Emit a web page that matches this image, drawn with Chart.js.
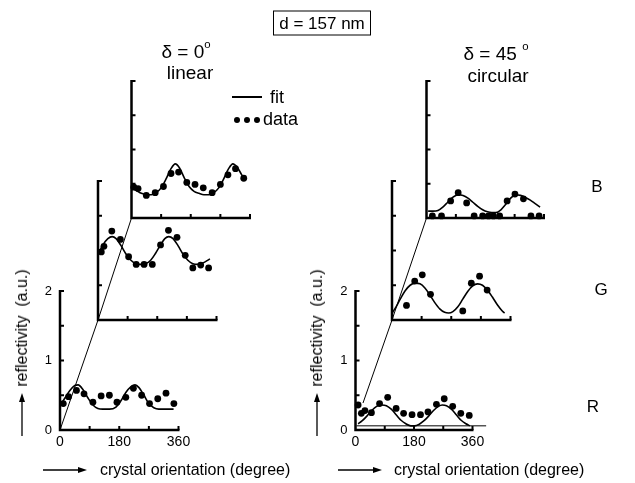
<!DOCTYPE html>
<html>
<head>
<meta charset="utf-8">
<script src="https://cdn.jsdelivr.net/npm/chart.js@4.4.1/dist/chart.umd.min.js"></script>
<style>
body { margin:0; background:#fff; }
#wrap { position:relative; width:635px; height:483px; overflow:hidden; font-family:'Liberation Sans', Arial, sans-serif; color:#000; }
#wrap canvas { position:absolute; left:0; top:0; }
.t { position:absolute; transform:translate(-50%,-50%); white-space:nowrap; line-height:1; }
.yt { position:absolute; transform:translate(-50%,-50%) rotate(-90deg); white-space:nowrap; font-size:16px; line-height:1; }
.l { position:absolute; white-space:nowrap; line-height:1; transform:translateY(-50%); }
sup { font-size:0.6em; position:relative; top:-0.2em; }
.dot { position:absolute; width:6px; height:6px; border-radius:50%; background:#000; }
</style>
</head>
<body>
<div id="wrap">
  <div class="t" style="left:322px; top:23px; width:96px; height:23px; border:1px solid #000; font-size:17px; display:flex; align-items:center; justify-content:center;">d = 157 nm</div>
  <div class="t" style="left:186px; top:51px; font-size:19px;">&delta; = 0<sup>o</sup></div>
  <div class="t" style="left:190px; top:72px; font-size:19px;">linear</div>
  <div class="t" style="left:496px; top:53px; font-size:19px;">&delta; = 45 <sup>o</sup></div>
  <div class="t" style="left:498px; top:75px; font-size:19px;">circular</div>
  <div style="position:absolute; left:232px; top:96px; width:30px; height:2px; background:#000;"></div>
  <div class="l" style="left:270px; top:97px; font-size:18px;">fit</div>
  <div class="dot" style="left:234px; top:117px;"></div>
  <div class="dot" style="left:244px; top:117px;"></div>
  <div class="dot" style="left:254px; top:117px;"></div>
  <div class="l" style="left:263px; top:119px; font-size:18px;">data</div>
  <div class="t" style="left:597px; top:186px; font-size:17px;">B</div>
  <div class="t" style="left:601px; top:289px; font-size:17px;">G</div>
  <div class="t" style="left:593px; top:406px; font-size:17px;">R</div>
  <div class="yt" style="left:22px; top:328px;">reflectivity&nbsp; (a.u.)</div>
  <div class="yt" style="left:317px; top:328px;">reflectivity&nbsp; (a.u.)</div>
  <div class="l" style="left:100px; top:470px; font-size:16px;">crystal orientation (degree)</div>
  <div class="l" style="left:394px; top:470px; font-size:16px;">crystal orientation (degree)</div>
  <svg width="635" height="483" style="position:absolute; left:0; top:0;">
    <g stroke="#000" stroke-width="1.3" fill="#000">
      <line x1="22" y1="436" x2="22" y2="400"/><polygon points="22,393 19,402 25,402" stroke="none"/>
      <line x1="317" y1="436" x2="317" y2="400"/><polygon points="317,393 314,402 320,402" stroke="none"/>
      <line x1="43" y1="470" x2="79" y2="470"/><polygon points="87,470 78,467 78,473" stroke="none"/>
      <line x1="338" y1="470" x2="374" y2="470"/><polygon points="382,470 373,467 373,473" stroke="none"/>
    </g>
  </svg>
</div>
<script>
// linear (delta = 0), R / G / B
var linRAngle = [10, 26, 50, 73, 100, 125, 150, 173, 200, 223, 248, 272, 297, 322, 346];
var linRData  = [0.38, 0.48, 0.57, 0.52, 0.40, 0.49, 0.50, 0.40, 0.47, 0.60, 0.50, 0.38, 0.45, 0.53, 0.38];
var linRFitAngle = [3, 15, 30, 45, 55, 70, 85, 100, 115, 130, 150, 170, 185, 200, 215, 228, 240, 255, 270, 285, 300, 320, 345];
var linRFit      = [0.37, 0.46, 0.57, 0.64, 0.65, 0.58, 0.46, 0.36, 0.31, 0.30, 0.30, 0.33, 0.42, 0.54, 0.62, 0.65, 0.61, 0.50, 0.38, 0.32, 0.30, 0.30, 0.30];

var linGAngle = [10, 18, 42, 68, 93, 116, 140, 165, 190, 214, 240, 265, 288, 312, 336];
var linGData  = [0.98, 1.06, 1.28, 1.16, 0.91, 0.80, 0.80, 0.80, 1.08, 1.29, 1.19, 0.93, 0.75, 0.79, 0.75];
var linGFitAngle = [2, 15, 30, 43, 55, 70, 85, 100, 115, 130, 145, 160, 175, 190, 203, 215, 228, 243, 258, 273, 288, 303, 318, 330, 340];
var linGFit      = [0.96, 1.08, 1.17, 1.20, 1.17, 1.07, 0.95, 0.86, 0.81, 0.80, 0.81, 0.86, 0.96, 1.08, 1.17, 1.20, 1.17, 1.07, 0.95, 0.86, 0.81, 0.80, 0.82, 0.85, 0.88];

var linBAngle = [7, 20, 45, 72, 97, 120, 143, 168, 193, 218, 245, 270, 293, 316, 341];
var linBData  = [0.45, 0.43, 0.33, 0.37, 0.46, 0.65, 0.67, 0.52, 0.49, 0.44, 0.37, 0.49, 0.63, 0.72, 0.58];
var linBFitAngle = [0, 15, 30, 45, 60, 75, 90, 105, 120, 133, 146, 160, 175, 190, 205, 220, 235, 250, 265, 280, 295, 308, 321, 335, 343];
var linBFit      = [0.44, 0.40, 0.36, 0.34, 0.34, 0.37, 0.44, 0.57, 0.72, 0.79, 0.73, 0.59, 0.46, 0.39, 0.36, 0.34, 0.34, 0.37, 0.44, 0.57, 0.72, 0.79, 0.74, 0.63, 0.57];

// circular (delta = 45), R / G / B
var cirRAngle = [8, 18, 29, 49, 74, 99, 125, 148, 174, 200, 223, 249, 273, 299, 324, 350];
var cirRData  = [0.36, 0.24, 0.28, 0.25, 0.38, 0.47, 0.31, 0.24, 0.22, 0.22, 0.26, 0.37, 0.45, 0.34, 0.24, 0.21];
var cirRFitAngle = [8, 20, 35, 50, 65, 80, 95, 110, 125, 140, 155, 170, 182, 195, 210, 225, 240, 255, 267, 280, 295, 310, 325, 340, 352];
var cirRFit      = [0.09, 0.13, 0.20, 0.28, 0.34, 0.36, 0.35, 0.30, 0.22, 0.14, 0.09, 0.06, 0.06, 0.08, 0.13, 0.20, 0.28, 0.34, 0.36, 0.35, 0.30, 0.22, 0.14, 0.09, 0.06];
var cirRBaseAngle = [3, 402];
var cirRBase      = [0.06, 0.06];

var cirGAngle = [44, 69, 92, 117, 215, 241, 266, 289];
var cirGData  = [0.21, 0.56, 0.65, 0.37, 0.13, 0.53, 0.63, 0.43];
var cirGFitAngle = [0, 10, 25, 40, 55, 70, 85, 100, 115, 130, 145, 160, 172, 185, 200, 215, 230, 245, 260, 275, 290, 305, 320, 335, 342];
var cirGFit      = [0.10, 0.17, 0.30, 0.42, 0.50, 0.53, 0.52, 0.46, 0.36, 0.25, 0.16, 0.11, 0.10, 0.12, 0.19, 0.30, 0.41, 0.49, 0.52, 0.50, 0.43, 0.33, 0.22, 0.13, 0.10];

var cirBAngle = [18, 46, 74, 97, 123, 146, 172, 190, 205, 224, 247, 271, 297, 320, 345];
var cirBData  = [0.03, 0.03, 0.25, 0.37, 0.22, 0.03, 0.03, 0.03, 0.03, 0.03, 0.25, 0.35, 0.28, 0.03, 0.03];
var cirBFitAngle = [5, 20, 35, 50, 65, 80, 97, 112, 127, 142, 157, 172, 187, 200, 213, 228, 243, 258, 273, 288, 303, 318, 333, 348];
var cirBFit      = [0.10, 0.10, 0.11, 0.16, 0.23, 0.30, 0.34, 0.33, 0.29, 0.23, 0.17, 0.12, 0.09, 0.08, 0.08, 0.12, 0.20, 0.29, 0.34, 0.33, 0.30, 0.26, 0.21, 0.16];

var xTicks = [0, 90, 180, 270, 360];
var yTicks = [0, 0.5, 1, 1.5, 2];

Chart.defaults.font.family = "'Liberation Sans', Arial, sans-serif";
Chart.defaults.color = '#000';

function pairs(xs, ys) {
  var out = [];
  for (var i = 0; i < xs.length; i++) out.push({x: xs[i], y: ys[i]});
  return out;
}

// axes drawn by hand: thick L with inward ticks, plus the slanted link line
var axesPlugin = {
  id: 'axes',
  beforeDatasetsDraw: function(chart, args, opts) {
    var x = chart.scales.x, y = chart.scales.y, ctx = chart.ctx;
    var x0 = x.getPixelForValue(0), y0 = y.getPixelForValue(0);
    ctx.save();
    ctx.strokeStyle = '#000';
    if (opts.link) {
      ctx.lineWidth = 1;
      ctx.beginPath();
      ctx.moveTo(opts.link[0], opts.link[1]);
      ctx.lineTo(x0, y0);
      ctx.stroke();
    }
    ctx.lineWidth = 2.5;
    ctx.beginPath();
    ctx.moveTo(x0, y.getPixelForValue(2) - 1);
    ctx.lineTo(x0, y0);
    ctx.lineTo(x.getPixelForValue(360) + 1, y0);
    ctx.stroke();
    ctx.lineWidth = 2;
    ctx.beginPath();
    yTicks.forEach(function(v) {
      if (v === 0) return;
      var py = y.getPixelForValue(v);
      ctx.moveTo(x0, py); ctx.lineTo(x0 + 4, py);
    });
    xTicks.forEach(function(v) {
      if (v === 0) return;
      var px = x.getPixelForValue(v);
      ctx.moveTo(px, y0); ctx.lineTo(px, y0 - 4);
    });
    ctx.stroke();
    ctx.restore();
  }
};

var panels = [
  {ox: 60,    oy: 430, w: 118.5, h: 139, fx: linRFitAngle, fy: linRFit, dx: linRAngle, dy: linRData, labels: true},
  {ox: 98,    oy: 320, w: 118.5, h: 139, fx: linGFitAngle, fy: linGFit, dx: linGAngle, dy: linGData, link: [60, 430]},
  {ox: 131.5, oy: 218, w: 118.5, h: 137, fx: linBFitAngle, fy: linBFit, dx: linBAngle, dy: linBData, link: [98, 320]},
  {ox: 355.5, oy: 430, w: 117,   h: 139, fx: cirRFitAngle, fy: cirRFit, dx: cirRAngle, dy: cirRData, labels: true, bx: cirRBaseAngle, by: cirRBase},
  {ox: 392,   oy: 320, w: 118.5, h: 139, fx: cirGFitAngle, fy: cirGFit, dx: cirGAngle, dy: cirGData, link: [363, 403]},
  {ox: 426.5, oy: 218, w: 117.5, h: 137, fx: cirBFitAngle, fy: cirBFit, dx: cirBAngle, dy: cirBData, link: [392, 320]}
];

var wrap = document.getElementById('wrap');

panels.forEach(function(p) {
  var cv = document.createElement('canvas');
  cv.width = 635; cv.height = 483;
  wrap.insertBefore(cv, wrap.firstChild);
  var labW = p.labels ? 30 : 0, labH = p.labels ? 22 : 0;
  var sets = [
    {data: pairs(p.fx, p.fy), showLine: true, borderColor: '#000', borderWidth: 1.6, pointRadius: 0, cubicInterpolationMode: 'monotone', clip: false},
    {data: pairs(p.dx, p.dy), showLine: false, backgroundColor: '#000', borderColor: '#000', pointRadius: 3.4, borderWidth: 0, clip: false}
  ];
  if (p.bx) sets.push({data: pairs(p.bx, p.by), showLine: true, borderColor: '#000', borderWidth: 1, pointRadius: 0, clip: false});
  new Chart(cv, {
    type: 'scatter',
    data: {datasets: sets},
    options: {
      responsive: false,
      animation: false,
      devicePixelRatio: 1,
      events: [],
      layout: {padding: {left: p.ox - labW, right: 635 - p.ox - p.w, top: p.oy - p.h, bottom: 483 - p.oy - labH}},
      plugins: {legend: {display: false}, tooltip: {enabled: false}, axes: {link: p.link}},
      scales: {
        x: {
          type: 'linear', min: 0, max: 360, display: !!p.labels,
          grid: {display: false, drawTicks: false}, border: {display: false},
          afterFit: function(s) { s.height = labH; },
          ticks: {stepSize: 90, padding: 4, autoSkip: false, maxRotation: 0, font: {size: 14},
                  callback: function(v) { return v % 180 === 0 ? String(v) : ''; }}
        },
        y: {
          type: 'linear', min: 0, max: 2, display: !!p.labels,
          grid: {display: false, drawTicks: false}, border: {display: false},
          afterFit: function(s) { s.width = labW; },
          ticks: {stepSize: 0.5, padding: 8, autoSkip: false, font: {size: 13},
                  callback: function(v) { return Number.isInteger(v) ? String(v) : ''; }}
        }
      }
    },
    plugins: [axesPlugin]
  });
});
</script>
</body>
</html>
